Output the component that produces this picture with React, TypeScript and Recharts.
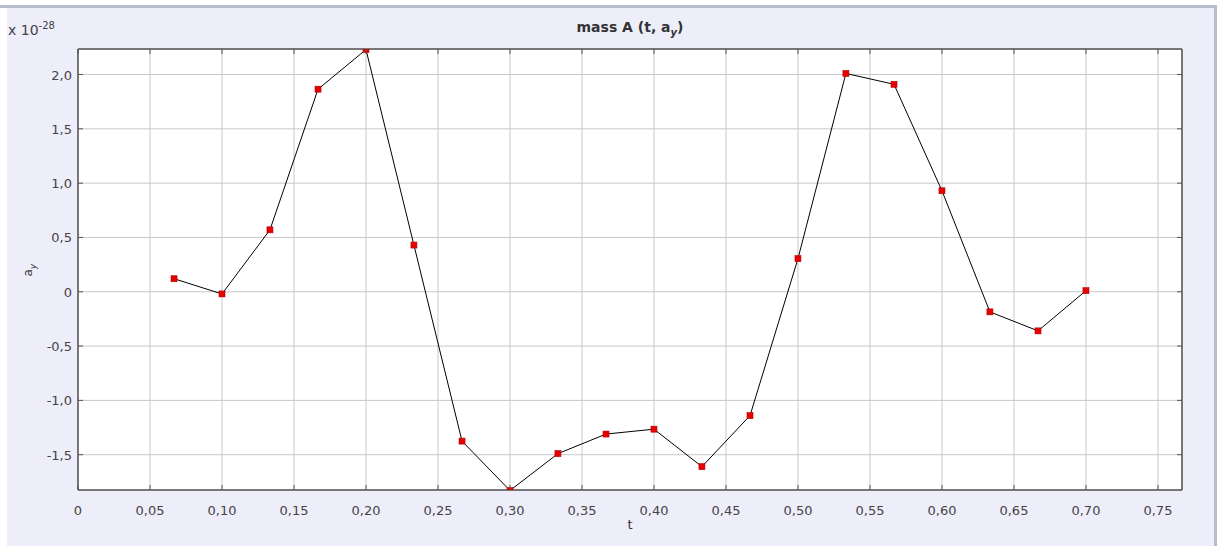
import React from 'react';
import { LineChart, Line, XAxis, YAxis, CartesianGrid } from 'recharts';

const times = [
  0.0667, 0.1, 0.1333, 0.1667, 0.2, 0.2333, 0.2667, 0.3, 0.3333, 0.3667,
  0.4, 0.4333, 0.4667, 0.5, 0.5333, 0.5667, 0.6, 0.6333, 0.6667, 0.7,
];
const ayValues = [
  0.12, -0.02, 0.57, 1.865, 2.23, 0.43, -1.375, -1.83, -1.49, -1.31,
  -1.265, -1.61, -1.14, 0.305, 2.01, 1.91, 0.93, -0.185, -0.36, 0.01,
];
const xTicks = [0, 0.05, 0.1, 0.15, 0.2, 0.25, 0.3, 0.35, 0.4, 0.45, 0.5, 0.55, 0.6, 0.65, 0.7, 0.75];
const yTicks = [-1.5, -1, -0.5, 0, 0.5, 1, 1.5, 2];

const data = times.map((t, i) => ({ t, ay: ayValues[i] }));

const FONT = '"DejaVu Sans", sans-serif';
const PLOT_LEFT = 78;
const PLOT_TOP = 49;
const PLOT_RIGHT = 1182;
const PLOT_BOTTOM = 490;
const AXIS = '#555';
const TICK_LEN = 5;

const fmtX = (v: number) => (v === 0 ? '0' : v.toFixed(2).replace('.', ','));
const fmtY = (v: number) => (v === 0 ? '0' : v.toFixed(1).replace('.', ','));

const BottomTick = (props: any) => {
  const { x, payload } = props;
  return (
    <g>
      <line x1={x} x2={x} y1={PLOT_BOTTOM} y2={PLOT_BOTTOM - TICK_LEN} stroke={AXIS} />
      <text x={x} y={PLOT_BOTTOM + 25} textAnchor="middle" fill="#444" fontSize={13} fontFamily={FONT}>
        {fmtX(payload.value)}
      </text>
    </g>
  );
};

const LeftTick = (props: any) => {
  const { y, payload } = props;
  return (
    <g>
      <line x1={PLOT_LEFT} x2={PLOT_LEFT + TICK_LEN} y1={y} y2={y} stroke={AXIS} />
      <text x={PLOT_LEFT - 6} y={y + 5} textAnchor="end" fill="#444" fontSize={13} fontFamily={FONT}>
        {fmtY(payload.value)}
      </text>
    </g>
  );
};

const TopTick = (props: any) => {
  const { x } = props;
  return <line x1={x} x2={x} y1={PLOT_TOP} y2={PLOT_TOP + TICK_LEN} stroke={AXIS} />;
};

const RightTick = (props: any) => {
  const { y } = props;
  return <line x1={PLOT_RIGHT} x2={PLOT_RIGHT - TICK_LEN} y1={y} y2={y} stroke={AXIS} />;
};

const SquareDot = (props: any) => {
  const { cx, cy, index } = props;
  if (cx == null || cy == null) return null;
  return <rect key={index} x={cx - 3} y={cy - 3} width={6} height={6} fill="#e60000" stroke="#b40000" strokeWidth={0.6} />;
};

export default function App() {
  return (
    <div style={{ position: 'fixed', left: 0, top: 0, width: 1217, height: 546, background: '#fff', overflow: 'hidden' }}>
      <div style={{ position: 'absolute', left: 0, top: 5, width: 1217, height: 3, background: '#b9bdc9' }} />
      <div style={{ position: 'absolute', left: 7, top: 8, width: 1207, height: 538, background: '#eeeefb' }} />
      <div style={{ position: 'absolute', left: 1214, top: 5, width: 3, height: 541, background: '#b9bdc9' }} />

      <div style={{ position: 'absolute', left: 0, top: 0 }}>
        <LineChart width={1217} height={546} data={data} margin={{ top: PLOT_TOP - 1, right: 1217 - PLOT_RIGHT - 1, bottom: 546 - PLOT_BOTTOM - 1, left: 0 }}>
          <CartesianGrid stroke="#c8c8c8" strokeWidth={1} fill="#fff" />
          <XAxis
            dataKey="t"
            type="number"
            domain={[0, 0.7667]}
            ticks={xTicks}
            allowDataOverflow
            height={1}
            tickLine={false}
            axisLine={{ stroke: AXIS, strokeWidth: 1.5 }}
            tick={<BottomTick />}
            interval={0}
          />
          <XAxis
            xAxisId="top"
            orientation="top"
            dataKey="t"
            type="number"
            domain={[0, 0.7667]}
            ticks={xTicks}
            allowDataOverflow
            height={1}
            tickLine={false}
            axisLine={{ stroke: AXIS, strokeWidth: 1.5 }}
            tick={<TopTick />}
            interval={0}
          />
          <YAxis
            type="number"
            domain={[-1.825, 2.235]}
            ticks={yTicks}
            allowDataOverflow
            width={PLOT_LEFT}
            tickLine={false}
            axisLine={{ stroke: AXIS, strokeWidth: 1.5 }}
            tick={<LeftTick />}
            interval={0}
          />
          <YAxis
            yAxisId="right"
            orientation="right"
            type="number"
            domain={[-1.825, 2.235]}
            ticks={yTicks}
            allowDataOverflow
            width={1}
            tickLine={false}
            axisLine={{ stroke: AXIS, strokeWidth: 1.5 }}
            tick={<RightTick />}
            interval={0}
          />
          <Line
            dataKey="ay"
            stroke="#000"
            strokeWidth={1}
            dot={<SquareDot />}
            activeDot={false}
            isAnimationActive={false}
          />
        </LineChart>
      </div>

      <div style={{ position: 'absolute', left: 0, top: 19, width: 1260, textAlign: 'center', fontFamily: FONT, fontWeight: 'bold', fontSize: 14, color: '#333' }}>
        mass A (t, a<sub style={{ fontSize: 10, fontStyle: 'italic' }}>y</sub>)
      </div>
      <div style={{ position: 'absolute', left: 8, top: 20, fontFamily: FONT, fontSize: 14, color: '#444', whiteSpace: 'nowrap' }}>
        x 10<sup style={{ fontSize: 10 }}>-28</sup>
      </div>
      <div style={{ position: 'absolute', left: 23, top: 262, transform: 'rotate(-90deg)', transformOrigin: 'center', fontFamily: FONT, fontSize: 12, color: '#333', whiteSpace: 'nowrap' }}>
        a<sub style={{ fontSize: 9, fontStyle: 'italic' }}>y</sub>
      </div>
      <div style={{ position: 'absolute', left: 0, top: 517, width: 1260, textAlign: 'center', fontFamily: FONT, fontSize: 13, color: '#333' }}>
        t
      </div>
    </div>
  );
}
